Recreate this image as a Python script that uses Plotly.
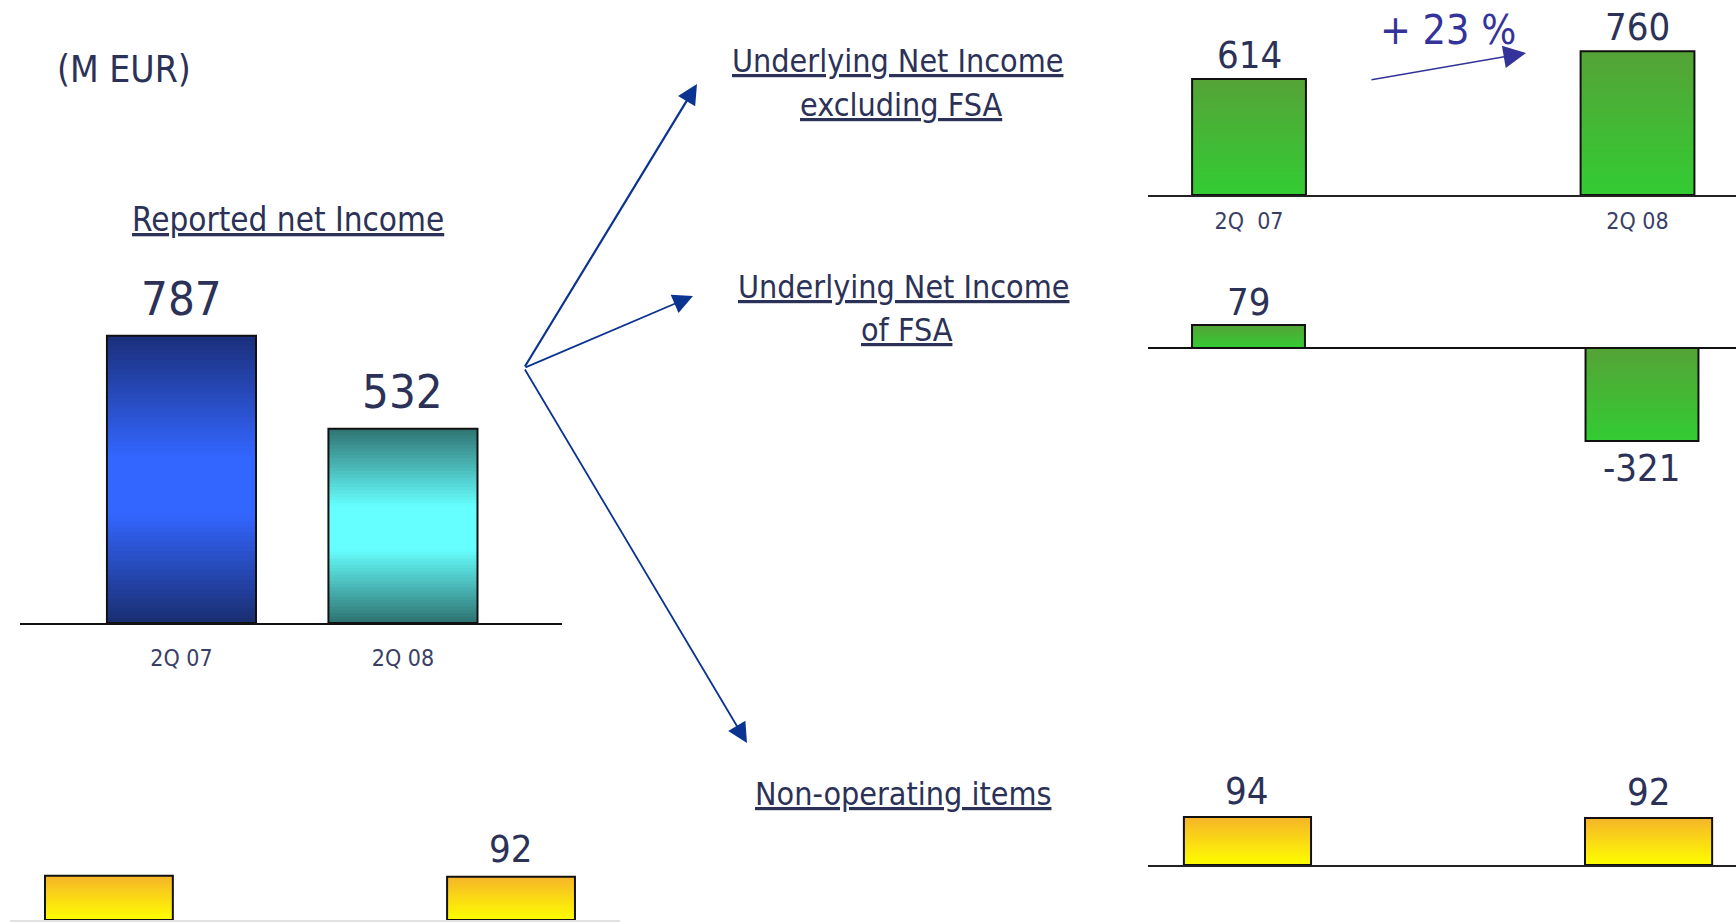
import plotly.graph_objects as go

W, H = 1736, 922

# ---------------- data ----------------
periods = ["2Q 07", "2Q 08"]
reported_net_income = [787, 532]
underlying_excl_fsa = [614, 760]
underlying_fsa = [79, -321]
non_operating_items = [94, 92]
non_operating_left = [94, 92]
non_operating_left_labels = ["", "92"]
tick_labels_main = ["2Q 07", "2Q 08"]
tick_labels_excl = ["2Q\u00a0\u00a007", "2Q 08"]
growth_text = "+ 23 %"
unit_text = "(M EUR)"
title_reported = "Reported net Income"
title_excl = ["Underlying Net Income", "excluding FSA"]
title_fsa = ["Underlying Net Income", "of FSA"]
title_nonop = "Non-operating items"

# ---------------- styles ----------------
COND = "DejaVu Sans Condensed, Liberation Sans Narrow, Arial Narrow, Roboto, sans-serif"
NAVY = "#2c3257"
TICK = "#3a3f66"

BLUE = [(0.0, "#1b2f7a"), (0.42, "#3366ff"), (0.62, "#3366ff"), (1.0, "#192d70")]
TEAL = [(0.0, "#2f7371"), (0.40, "#66ffff"), (0.62, "#66ffff"), (1.0, "#2d716f")]
GREEN = [(0.0, "#55a337"), (1.0, "#33cc33")]
YELLOW = [(0.0, "#f5b42a"), (1.0, "#ffff00")]


def hex2rgb(h):
    h = h.lstrip("#")
    return tuple(int(h[i:i + 2], 16) for i in (0, 2, 4))


def grad_color(stops, t):
    for (t0, c0), (t1, c1) in zip(stops[:-1], stops[1:]):
        if t <= t1:
            f = 0 if t1 == t0 else (t - t0) / (t1 - t0)
            a, b = hex2rgb(c0), hex2rgb(c1)
            return "rgb(%d,%d,%d)" % tuple(round(a[i] + (b[i] - a[i]) * f) for i in range(3))
    return stops[-1][1]


def fx(p):
    return p / W


def fy(p):
    return 1 - p / H


fig = go.Figure()


def add_grad_bar(xa, ya, cat, v, stops, width, N=60):
    # overlapping slices: slice k covers [v*k/N, v]; later slices drawn on top -> seamless gradient
    ks = range(N)
    base = [v * k / N for k in ks]
    seg = [v - v * k / N for k in ks]
    if v >= 0:
        ts = [1 - (k + 0.5) / N for k in ks]
    else:
        ts = [(k + 0.5) / N for k in ks]
    fig.add_trace(go.Bar(
        x=[cat] * N, y=seg, base=base, width=width,
        marker=dict(color=[grad_color(stops, t) for t in ts], line=dict(width=0)),
        xaxis=xa, yaxis=ya, hoverinfo="skip", showlegend=False))


# panel geometry (pixels) -> axes
panels = [
    dict(n=1, values=reported_net_income, grads=[BLUE, TEAL], xdom=(20, 562), ydom=(240, 623),
         xr=(-0.729, 1.718), scale=0.365, width=0.673, ticks=tick_labels_main, ticklen=13,
         line="#111111", zeroline=False),
    dict(n=2, values=underlying_excl_fsa, grads=[GREEN, GREEN], xdom=(1148, 1736), ydom=(0, 195),
         xr=(-0.26, 1.2535), scale=0.189, width=0.293, ticks=tick_labels_excl, ticklen=4,
         line="#222222", zeroline=False),
    dict(n=3, values=underlying_fsa, grads=[GREEN, GREEN], xdom=(1148, 1736), ydom=(250, 480),
         xr=(-0.2554, 1.2389), scale=0.29, width=0.287, ticks=None, zero_px=348,
         line=None, zeroline=True),
    dict(n=4, values=non_operating_items, grads=[YELLOW, YELLOW], xdom=(1148, 1736), ydom=(700, 865),
         xr=(-0.248, 1.218), scale=0.51, width=0.317, ticks=None, line="#222222", zeroline=False),
    dict(n=5, values=non_operating_left, grads=[YELLOW, YELLOW], xdom=(10, 620), ydom=(760, 920),
         xr=(-0.246, 1.271), scale=0.47, width=0.318, ticks=None, line="#e2e2e2", zeroline=False),
]

layout_axes = {}
for p in panels:
    n = p["n"]
    sfx = "" if n == 1 else str(n)
    xa, ya = "x" + sfx, "y" + sfx
    for cat, v, g in zip(periods, p["values"], p["grads"]):
        add_grad_bar(xa, ya, cat, v, g, p["width"])
    fig.add_trace(go.Bar(
        x=periods, y=p["values"], width=p["width"],
        marker=dict(color="rgba(0,0,0,0)", line=dict(color="#111111", width=2)),
        xaxis=xa, yaxis=ya, showlegend=False, hovertemplate="%{x}: %{y}<extra></extra>"))

    top_px, bot_px = p["ydom"]
    if p["zeroline"]:
        zp = p["zero_px"]
        yr = [-(bot_px - zp) / p["scale"], (zp - top_px) / p["scale"]]
    else:
        yr = [0, (bot_px - top_px) / p["scale"]]

    xaxis = dict(domain=[fx(p["xdom"][0]), fx(p["xdom"][1])], range=list(p["xr"]),
                 type="category", categoryorder="array", categoryarray=periods,
                 showgrid=False, zeroline=False, anchor=ya, fixedrange=True)
    if p["line"]:
        xaxis.update(showline=True, linecolor=p["line"], linewidth=2)
    else:
        xaxis.update(showline=False)
    if p["ticks"]:
        xaxis.update(showticklabels=True, tickmode="array", tickvals=periods, ticktext=p["ticks"],
                     ticks="outside", ticklen=p["ticklen"], tickcolor="rgba(0,0,0,0)",
                     tickfont=dict(family=COND, size=23, color=TICK))
    else:
        xaxis.update(showticklabels=False, ticks="")
    yaxis = dict(domain=[fy(bot_px), fy(top_px)], range=yr, showgrid=False, showline=False,
                 showticklabels=False, ticks="", anchor=xa, fixedrange=True,
                 zeroline=p["zeroline"], zerolinecolor="#111111", zerolinewidth=2)
    layout_axes["xaxis" + sfx] = xaxis
    layout_axes["yaxis" + sfx] = yaxis

annotations = []


def value_labels(sfx, values, labels, size, yshift_pos, yshift_neg=0):
    for cat, v, lab in zip(periods, values, labels):
        if not lab:
            continue
        annotations.append(dict(
            xref="x" + sfx, yref="y" + sfx, x=cat, y=v, text=lab, showarrow=False,
            yanchor="bottom" if v >= 0 else "top",
            yshift=yshift_pos if v >= 0 else yshift_neg,
            font=dict(family=COND, size=size, color=NAVY)))


value_labels("", reported_net_income, [str(v) for v in reported_net_income], 47, 8)
value_labels("2", underlying_excl_fsa, [str(v) for v in underlying_excl_fsa], 38, 0)
value_labels("3", underlying_fsa, [str(v) for v in underlying_fsa], 38, -1, -3)
value_labels("4", non_operating_items, [str(v) for v in non_operating_items], 38, 2)
value_labels("5", non_operating_left, non_operating_left_labels, 38, 4)

# unit + titles
annotations.append(dict(xref="paper", yref="paper", x=fx(55), y=fy(69), xanchor="left", yanchor="middle",
                        text=unit_text, showarrow=False,
                        font=dict(family=COND, size=37, color=NAVY)))
annotations.append(dict(xref="paper", yref="paper", x=fx(288), y=fy(220), xanchor="center", yanchor="middle",
                        text=title_reported, showarrow=False,
                        font=dict(family=COND, size=33, color=NAVY, lineposition="under")))


def title(text, cx, cy):
    annotations.append(dict(xref="paper", yref="paper", x=fx(cx), y=fy(cy), xanchor="center", yanchor="middle",
                            text=text, showarrow=False,
                            font=dict(family=COND, size=32, color=NAVY, lineposition="under")))


title(title_excl[0], 898, 61)
title(title_excl[1], 901, 105)
title(title_fsa[0], 903, 287)
title(title_fsa[1], 907, 330)
title(title_nonop, 903, 794)

# growth text and arrow
annotations.append(dict(xref="paper", yref="paper", x=fx(1448), y=fy(30), xanchor="center", yanchor="middle",
                        text=growth_text, showarrow=False,
                        font=dict(family=COND, size=41, color="#333399")))
annotations.append(dict(xref="paper", yref="paper", x=fx(1526), y=fy(53), ax=1370 - 1526, ay=80 - 53,
                        axref="pixel", ayref="pixel", text="", showarrow=True, arrowhead=2,
                        arrowsize=3.0, arrowwidth=1.5, arrowcolor="#333399"))

# branch arrows
ORIGIN = (524, 368)
for (hx, hy), wdt in [((697, 84), 2.2), ((693, 296), 1.8), ((747, 743), 1.8)]:
    annotations.append(dict(xref="paper", yref="paper", x=fx(hx), y=fy(hy),
                            ax=ORIGIN[0] - hx, ay=ORIGIN[1] - hy, axref="pixel", ayref="pixel",
                            text="", showarrow=True, arrowhead=2, arrowsize=4.0 / wdt,
                            arrowwidth=wdt, arrowcolor="#0b3491"))

fig.update_layout(
    width=W, height=H, margin=dict(l=0, r=0, t=0, b=0),
    paper_bgcolor="white", plot_bgcolor="rgba(0,0,0,0)",
    barmode="overlay", showlegend=False, annotations=annotations,
    **layout_axes)

fig.write_html("out.html", config={"displayModeBar": False},
               post_script="document.body.style.margin='0px';document.body.style.overflow='hidden';")
